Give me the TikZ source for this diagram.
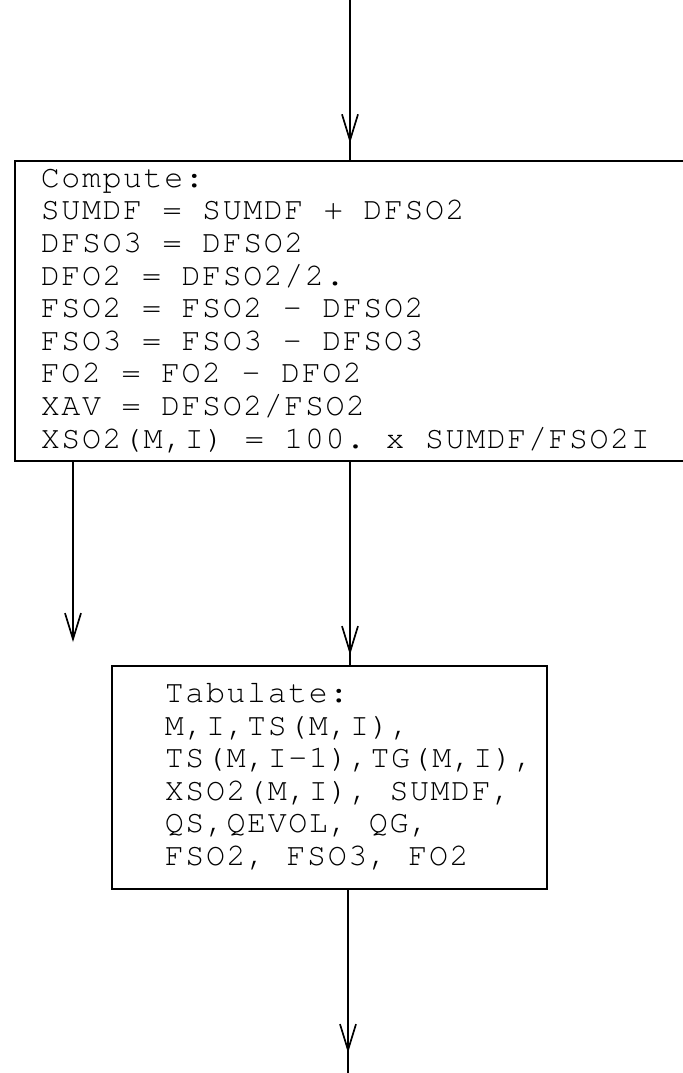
\documentclass[tikz,border=0pt]{standalone}
\usepackage{fontspec}
\newfontfamily\typewriter{texgyrecursor-regular.otf}[LetterSpace=5]
\usetikzlibrary{arrows.meta, decorations.markings}

\tikzset{
    box/.style={draw, line width=1.3pt, align=left, inner ysep=0pt,
        font={\typewriter\fontsize{22.5}{23.2}\selectfont},
        execute at begin node={\spaceskip=14.6pt\xspaceskip=14.6pt\relax}},
    wire/.style={line width=1.5pt, -{Straight Barb[length=6.5mm, width=4mm, line width=1.2pt]}},
    wiremid/.style={line width=1.5pt, postaction={decorate},
        decoration={markings, mark=at position #1 with {\arrow{Straight Barb[length=6.5mm, width=4mm, line width=1.2pt]}}}},
}

\begin{document}
\begin{tikzpicture}[x=0.025cm, y=-0.025cm]
    \useasboundingbox (0,0) rectangle (683,1073);

    % Boxes
    \node[box, anchor=north west, minimum width=17.2cm, minimum height=7.5cm,
        text width=15.9cm, inner xsep=0.65cm] (compute) at (14,160) {Compute:\\
        SUMDF = SUMDF + DFSO2\\
        DFSO3 = DFSO2\\
        DFO2 = DFSO2/2.\\
        FSO2 = FSO2 - DFSO2\\
        FSO3 = FSO3 - DFSO3\\
        FO2 = FO2 - DFO2\\
        XAV = DFSO2/FSO2\\
        XSO2(M,I) = 100. x SUMDF/FSO2I};
    \node[box, anchor=north west, minimum width=10.875cm, minimum height=5.575cm,
        text width=10.125cm, inner xsep=0.375cm] (tabulate) at (111,665)
        {\hspace*{0.95cm}\raisebox{-0.1cm}{\begin{tabular}{@{}l@{}}
        Tabulate:\\
        M,I,TS(M,I),\\
        TS(M,I-1),TG(M,I),\\
        XSO2(M,I), SUMDF,\\
        QS,QEVOL, QG,\\
        FSO2, FSO3, FO2
        \end{tabular}}};

    % Connectors
    \coordinate (start) at (350,0);
    \coordinate (branch) at (73,642);
    \coordinate (finish) at (348,1073);
    \draw[wiremid=-0.42cm] (start) -- (start |- compute.north);
    \draw[wire] (compute.south -| branch) -- (branch);
    \draw[wiremid=-0.25cm] (compute.south -| start) -- (tabulate.north -| start);
    \draw[wiremid=-0.5cm] (tabulate.south -| finish) -- (finish);
\end{tikzpicture}
\end{document}
